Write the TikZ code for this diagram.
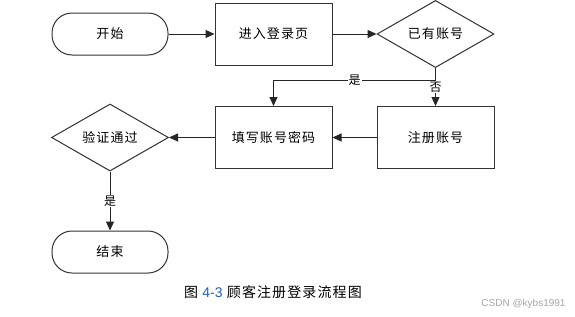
\documentclass[tikz,border=0pt]{standalone}
\usepackage{fontspec}
\newfontfamily\cjk[LetterSpace=8]{Noto Sans CJK SC}
\setsansfont{Liberation Sans}
\usetikzlibrary{shapes.geometric,arrows.meta}
\definecolor{capblue}{RGB}{30,90,200}

\begin{document}
\begin{tikzpicture}[x=1pt, y=-1pt, line width=1pt,
  every node/.style={font=\cjk\fontsize{13}{15}\selectfont},
  term/.style={draw=black!80, rounded corners=20pt, minimum width=116pt, minimum height=42pt, inner sep=0pt},
  box/.style={draw=black!80, minimum width=117pt, minimum height=62pt, inner sep=0pt},
  cond/.style={draw=black!80, diamond, minimum width=117pt, minimum height=62pt, inner sep=0pt},
  flow/.style={draw=black!85, -{Triangle[length=9pt,width=8pt]}},
  lbl/.style={fill=white, inner sep=1pt, font=\cjk\fontsize{12}{14}\selectfont}]
  \useasboundingbox (0,0) rectangle (575,316);
  % steps
  \node[term] (start) at (110,34) {开始};
  \node[box] (enter) at (273.5,34) {进入登录页};
  \node[cond] (has) at (435.5,34) {已有账号};
  \node[box] (reg) at (435.5,137.5) {注册账号};
  \node[box] (fill) at (273.5,137.5) {填写账号密码};
  \node[cond] (check) at (110,137.5) {验证通过};
  \node[term] (end) at (110,252) {结束};
  \coordinate (split) at (435.5,80);
  % connectors
  \draw[flow] (start) -- (enter);
  \draw[flow] (enter) -- (has);
  \draw[flow] (split) -| node[lbl, pos=0.25]{是} (fill);
  \draw[flow] (has) -- node[lbl]{否} (reg);
  \draw[flow] (reg) -- (fill);
  \draw[flow] (fill) -- (check);
  \draw[flow] (check) -- node[lbl]{是} (end);
  % caption
  \node[font=\cjk\fontsize{14}{16}\selectfont] (cap) at (273,292) {图 {\sffamily\color{capblue}4-3} 顾客注册登录流程图};
  \node[font=\sffamily\fontsize{10}{12}\selectfont, text=black!35] (mark) at (523.5,304) {CSDN @kybs1991};
\end{tikzpicture}
\end{document}
